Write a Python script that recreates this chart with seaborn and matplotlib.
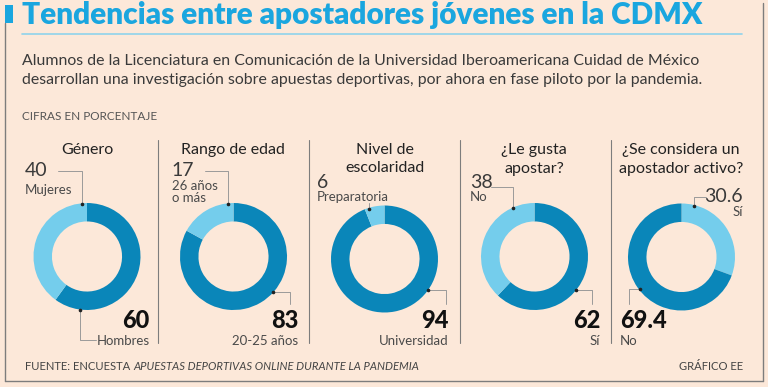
import matplotlib.pyplot as plt
import seaborn as sns

# datos (porcentajes)
titulos = ["Género", "Rango de edad", "Nivel de\nescolaridad", "¿Le gusta\napostar?",
           "¿Se considera un\napostador activo?"]
mayor = [60, 83, 94, 62, 69.4]
menor = [40, 17, 6, 38, 30.6]
etiq_mayor = ["Hombres", "20-25 años", "Universidad", "Sí", "No"]
etiq_menor = ["Mujeres", "26 años\no más", "Preparatoria", "No", "Sí"]
menor_primero = [False, False, False, False, True]
txt_mayor = ["60", "83", "94", "62", "69.4"]
txt_menor = ["40", "17", "6", "38", "30.6"]

sns.set_theme(style="white")
plt.rcParams["font.family"] = ["Lato", "DejaVu Sans"]

fondo = "#fce8d9"
oscuro, claro = sns.color_palette(["#0a86b9", "#74cdec"])
azul_tit = "#1aa6df"
gris = "#7d7d7d"
texto = "#3a3a3a"

W, H = 768, 387
fig = plt.figure(figsize=(W / 100, H / 100), dpi=100, facecolor=fondo)
ax0 = fig.add_axes([0, 0, 1, 1])
ax0.set_xlim(0, W)
ax0.set_ylim(H, 0)
ax0.axis("off")

# marco
ax0.plot([5, 5], [23, 381], color=gris, lw=1)
ax0.plot([763, 763], [3, 381], color=gris, lw=1)
ax0.plot([5, 763], [381, 381], color=gris, lw=1)
ax0.add_patch(plt.Rectangle((5, 5), 7.5, 18, color=azul_tit, lw=0))
ax0.plot([22, 742], [34, 34], color="#8fd3ec", lw=1.2)

ax0.text(22, 15, "Tendencias entre apostadores jóvenes en la CDMX", fontsize=21.4,
         fontweight="heavy", color=azul_tit, va="center", ha="left")
ax0.text(22, 61, "Alumnos de la Licenciatura en Comunicación de la Universidad Iberoamericana Cuidad de México",
         fontsize=11.4, color=texto, va="center")
ax0.text(22, 80, "desarrollan una investigación sobre apuestas deportivas, por ahora en fase piloto por la pandemia.",
         fontsize=11.4, color=texto, va="center")
ax0.text(22, 116, "CIFRAS EN PORCENTAJE", fontsize=8.5, color="#555555", va="center")

# divisores
for x in [158, 309, 460, 611]:
    ax0.plot([x, x], [140, 343], color=gris, lw=0.8)

centros = [(87, 256.5), (233.5, 256.5), (384.5, 259), (534.5, 256.5), (681.5, 257)]
R = 53.5
tit_x = [87, 233, 385, 534, 681]

pos_menor = [(25, 171, "left"), (171, 171, "left"), (317, 182, "left"),
             (470, 182, "left"), (743, 197, "right")]
pos_etq_menor = [(25, 190), (172, 192), (317, 197), (470, 197), (743, 212)]
pos_mayor = [(149, 320, "right"), (298, 320, "right"), (449, 320, "right"),
             (600, 320, "right"), (620, 320, "left")]
pos_etq_mayor = [(150, 341), (298, 341), (449, 341), (600, 341), (620, 341)]

guias_sup = [[(58, 171), (82, 171), (82, 204)],
             [(205, 171), (228, 171), (228, 204)],
             [(369, 203), (369, 209)],
             [(491, 187), (513, 187), (513, 208)],
             [(706, 197), (694, 197), (694, 206)]]
guias_inf = [[(80, 310), (80, 340), (96, 340)],
             [(273, 292), (290, 292), (290, 304)],
             [(428, 290), (446, 290), (446, 304)],
             [(576, 290), (592, 290), (592, 304)],
             [(640, 289), (629, 289), (629, 304)]]

for i in range(len(titulos)):
    cx, cy = centros[i]
    ax = fig.add_axes([(cx - R) / W, 1 - (cy + R) / H, 2 * R / W, 2 * R / H])
    if menor_primero[i]:
        vals, cols = [menor[i], mayor[i]], [claro, oscuro]
    else:
        vals, cols = [mayor[i], menor[i]], [oscuro, claro]
    ax.pie(vals, colors=cols, startangle=90, counterclock=False, radius=1,
           wedgeprops=dict(width=0.345, linewidth=0))
    ax.set_xlim(-1, 1)
    ax.set_ylim(-1, 1)
    ax.set_aspect("equal")
    ax.axis("off")

    lineas = titulos[i].split("\n")
    for j, ln in enumerate(lineas):
        ax0.text(tit_x[i], 150 + 18.5 * j, ln, fontsize=11.5, color="#222222",
                 ha="center", va="center")

    x, y, ha = pos_menor[i]
    ax0.text(x, y, txt_menor[i], fontsize=14, color=texto, ha=ha, va="center")
    ex, ey = pos_etq_menor[i]
    ax0.text(ex, ey, etiq_menor[i], fontsize=9.5, color="#4a4a4a", ha=ha, va="center",
             linespacing=0.95)

    x, y, ha = pos_mayor[i]
    ax0.text(x, y, txt_mayor[i], fontsize=17, color="#111111", ha=ha, va="center",
             fontweight="black")
    ex, ey = pos_etq_mayor[i]
    ax0.text(ex, ey, etiq_mayor[i], fontsize=9.5, color="#4a4a4a", ha=ha, va="center")

    for guia, extremo in [(guias_sup[i], -1), (guias_inf[i], 0)]:
        xs = [p[0] for p in guia]
        ys = [p[1] for p in guia]
        ax0.plot(xs, ys, color="#9a9a9a", lw=0.7, zorder=5)
        ax0.plot(xs[extremo], ys[extremo], "o", color="#222222", ms=1.6, zorder=6)

# las guias van por encima de los anillos
ax0.set_zorder(3)
ax0.patch.set_alpha(0)

# fuente
t1 = ax0.text(25, 367, "FUENTE: ENCUESTA ", fontsize=8.1, color="#444444", va="center")
fig.canvas.draw()
bb = t1.get_window_extent()
x_fin = bb.x1 * W / fig.bbox.width
ax0.text(x_fin, 367, "APUESTAS DEPORTIVAS ONLINE DURANTE LA PANDEMIA", fontsize=8.1,
         color="#444444", va="center", style="italic")
ax0.text(743, 367, "GRÁFICO EE", fontsize=8.1, color="#444444", va="center", ha="right")

fig.savefig("out.png", dpi=100, facecolor=fondo)
